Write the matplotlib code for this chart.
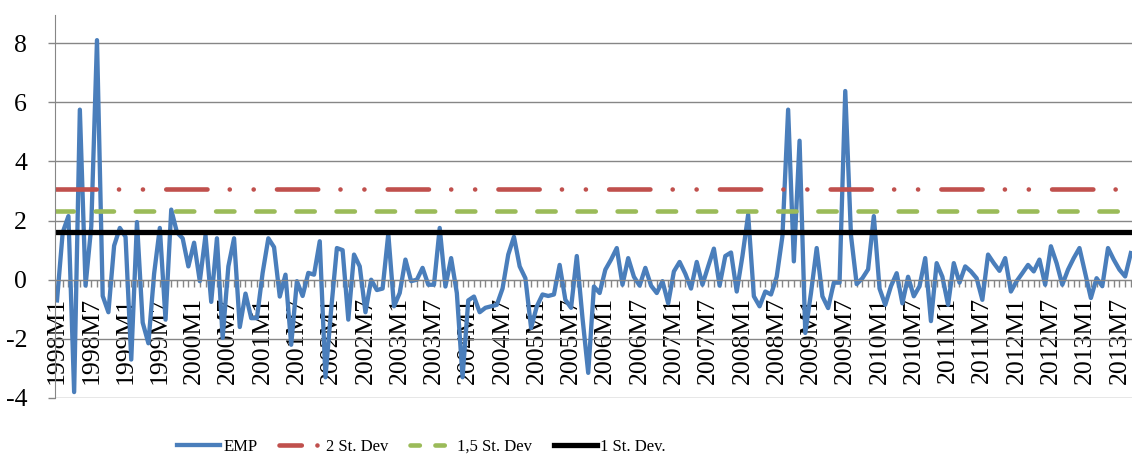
import numpy as np
import matplotlib.pyplot as plt
from matplotlib.lines import Line2D

plt.rcParams["font.family"] = ["Liberation Serif", "DejaVu Serif"]
plt.rcParams["axes.unicode_minus"] = False

# monthly EMP index, 1998M1 .. 2013M9
emp = [-0.7, 1.6, 2.15, -3.8, 5.75, -0.2, 1.8, 8.1, -0.55, -1.1, 1.15, 1.75,
       1.45, -2.7, 1.95, -1.45, -2.15, 0.2, 1.75, -1.35, 2.37, 1.6, 1.4, 0.45,
       1.25, -0.05, 1.5, -0.75, 1.4, -1.97, 0.45, 1.4, -1.6, -0.47, -1.3, -1.3,
       0.23, 1.4, 1.1, -0.57, 0.17, -2.2, -0.05, -0.55, 0.23, 0.17, 1.3, -3.3,
       -1.0, 1.07, 1.0, -1.35, 0.85, 0.45, -1.1, 0.0, -0.35, -0.3, 1.55, -0.9,
       -0.45, 0.68, -0.05, 0.0, 0.4, -0.17, -0.17, 1.75, -0.23, 0.73, -0.45, -3.3,
       -0.7, -0.57, -1.1, -0.95, -0.9, -0.85, -0.3, 0.85, 1.45, 0.45, 0.05, -1.63,
       -0.9, -0.5, -0.55, -0.5, 0.5, -0.68, -0.95, 0.8, -1.3, -3.15, -0.23, -0.45,
       0.34, 0.68, 1.07, -0.17, 0.73, 0.1, -0.2, 0.4, -0.2, -0.45, -0.05, -0.8,
       0.28, 0.6, 0.2, -0.3, 0.6, -0.17, 0.45, 1.05, -0.2, 0.8, 0.92, -0.4,
       0.8, 2.2, -0.56, -0.9, -0.4, -0.5, 0.1, 1.47, 5.75, 0.62, 4.7, -1.8,
       -0.45, 1.07, -0.56, -0.96, -0.1, -0.1, 6.38, 1.5, -0.15, 0.05, 0.35, 2.15,
       -0.3, -0.85, -0.22, 0.22, -0.8, 0.1, -0.56, -0.22, 0.73, -1.4, 0.56, 0.1,
       -0.85, 0.56, -0.1, 0.45, 0.28, 0.05, -0.68, 0.85, 0.56, 0.3, 0.73, -0.4,
       -0.05, 0.22, 0.5, 0.28, 0.68, -0.17, 1.13, 0.56, -0.17, 0.34, 0.73, 1.07,
       0.22, -0.62, 0.05, -0.22, 1.07, 0.68, 0.34, 0.11, 0.9]

sd2 = 3.07
sd15 = 2.33
sd1 = 1.6

tick_labels = ["1998M1", "1998M7", "1999M1", "1999M7", "2000M1", "2000M7",
               "2001M1", "2001M7", "2002M1", "2002M7", "2003M1", "2003M7",
               "2004M1", "2004M7", "2005M1", "2005M7", "2006M1", "2006M7",
               "2007M1", "2007M7", "2008M1", "2008M7", "2009M1", "2009M7",
               "2010M1", "2010M7", "2011M1", "2011M7", "2012M1", "2012M7",
               "2013M1", "2013M7"]
series_names = ["EMP", "2 St. Dev", "1,5 St. Dev", "1 St. Dev."]

blue = "#4A7EBB"
red = "#C0504D"
green = "#9BBB59"
gray = "#868686"

months = np.arange(len(emp))

fig = plt.figure(figsize=(11.32, 4.62), dpi=100)
ax = fig.add_axes([55/1132, 1 - 398/462, 1077/1132, 383/462])

red_ls = (0, (9.0, 4.85, 0.02, 5.2, 0.02, 5.07))
green_ls = (0, (4.0, 4.76))

ax.plot(months, emp, color=blue, lw=3.1, solid_joinstyle="round")
ax.axhline(sd2, color=red, lw=3.3, ls=red_ls, dash_capstyle="round")
ax.axhline(sd15, color=green, lw=3.3, ls=green_ls, dash_capstyle="round")
ax.axhline(sd1, color="black", lw=3.8, solid_capstyle="round")

ax.set_xlim(-0.35, len(emp) - 1 + 0.2)
ax.set_ylim(-4, 8.95)
ax.set_yticks([-4, -2, 0, 2, 4, 6, 8])
ax.yaxis.grid(True, color=gray, lw=1)

ax.set_xticks(months[::6])
ax.set_xticklabels(tick_labels)
ax.set_xticks(months, minor=True)
ax.tick_params(axis="x", which="both", direction="out", length=5, width=1, color=gray)
ax.tick_params(axis="x", which="major", labelrotation=90, labelsize=18.5, pad=7.5)
ax.tick_params(axis="y", length=5, width=1, color=gray, labelsize=18.5, pad=15)

ax.spines["bottom"].set_position(("data", 0))
ax.spines["bottom"].set_color(gray)
ax.spines["left"].set_color(gray)
ax.spines["top"].set_visible(False)
ax.spines["right"].set_visible(False)

handles = [
    Line2D([], [], color=blue, lw=3.1),
    Line2D([], [], color=red, lw=3.3, ls=(0, (4.87, 3.4, 0.02, 10)), dash_capstyle="round"),
    Line2D([], [], color=green, lw=3.3, ls=(0, (2.04, 3.4)), dash_capstyle="round"),
    Line2D([], [], color="black", lw=3.8),
]
fig.legend(handles, series_names, loc="center left",
           bbox_to_anchor=(177/1132, 1 - 447/462), ncol=4, frameon=False,
           fontsize=12, handlelength=2.6, handletextpad=0.2,
           columnspacing=1.3, borderpad=0, borderaxespad=0)

fig.savefig("out.png", dpi=100)
